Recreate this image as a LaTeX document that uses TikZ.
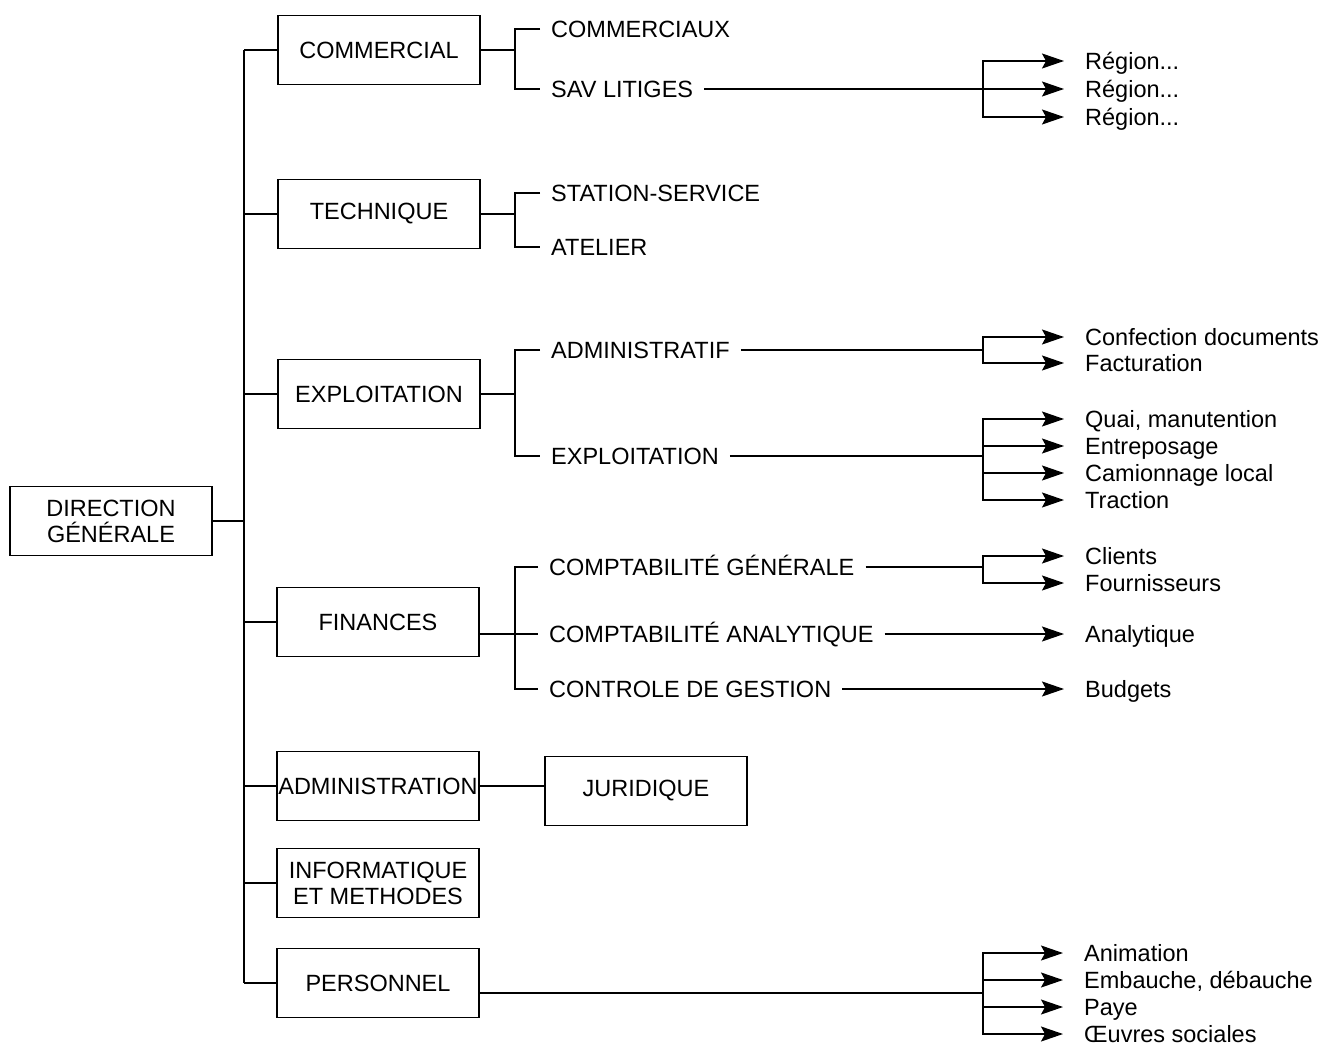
\documentclass[tikz,border=0pt]{standalone}
\usepackage{fontspec}
\setmainfont{Liberation Sans}
\usetikzlibrary{positioning,arrows.meta}

\begin{document}
\begin{tikzpicture}[x=1pt,y=-1pt,>={Stealth[length=22pt,width=15pt,inset=4pt]},
    every node/.style={font=\fontsize{23.5}{26}\selectfont},
    unit/.style={draw,line width=1.8pt,align=center,inner sep=0pt,
                 minimum width=202pt,minimum height=69pt},
    sub/.style={anchor=west,inner xsep=11pt,inner ysep=0pt,text height=16.8pt,text depth=0pt},
    task/.style={anchor=west,inner xsep=21pt,inner ysep=0pt,text height=16.8pt,text depth=0pt},
    link/.style={line width=1.6pt}]
  \useasboundingbox (0,0) rectangle (1335,1049);
  \node[unit] (dg) at (111,521) {DIRECTION\\GÉNÉRALE};
  \node[unit] (commercial) at (379,50) {COMMERCIAL};
  \node[unit] (technique) at (379,214) {TECHNIQUE};
  \node[unit] (exploitation) at (379,394) {EXPLOITATION};
  \node[unit] (finances) at (378,622) {FINANCES};
  \node[unit] (administration) at (378,786) {ADMINISTRATION};
  \node[unit] (informatique) at (378,883) {INFORMATIQUE\\ET METHODES};
  \node[unit] (personnel) at (378,983) {PERSONNEL};
  \node[unit] (juridique) at (646,791) {JURIDIQUE};

  \node[sub] (commerciaux) at (540,29) {COMMERCIAUX};
  \node[sub] (sav) at (540,89) {SAV LITIGES};
  \node[sub] (station) at (540,193) {STATION-SERVICE};
  \node[sub] (atelier) at (540,247) {ATELIER};
  \node[sub] (administratif) at (540,350) {ADMINISTRATIF};
  \node[sub] (exploit) at (540,456) {EXPLOITATION};
  \node[sub] (comptagen) at (538,567) {COMPTABILITÉ GÉNÉRALE};
  \node[sub] (comptaana) at (538,634) {COMPTABILITÉ ANALYTIQUE};
  \node[sub] (controle) at (538,689) {CONTROLE DE GESTION};

  \node[task] (region1) at (1064,61) {Région...};
  \node[task] (region2) at (1064,89) {Région...};
  \node[task] (region3) at (1064,117) {Région...};
  \node[task] (confection) at (1064,337) {Confection documents};
  \node[task] (facturation) at (1064,363) {Facturation};
  \node[task] (quai) at (1064,419) {Quai, manutention};
  \node[task] (entreposage) at (1064,446) {Entreposage};
  \node[task] (camionnage) at (1064,473) {Camionnage local};
  \node[task] (traction) at (1064,500) {Traction};
  \node[task] (clients) at (1064,556) {Clients};
  \node[task] (fournisseurs) at (1064,583) {Fournisseurs};
  \node[task] (analytique) at (1064,634) {Analytique};
  \node[task] (budgets) at (1064,689) {Budgets};
  \node[task] (animation) at (1063,953) {Animation};
  \node[task] (embauche) at (1063,980) {Embauche, débauche};
  \node[task] (paye) at (1063,1007) {Paye};
  \node[task] (oeuvres) at (1063,1034) {Œuvres sociales};

  \coordinate (spine) at (244,0);
  \coordinate (fork) at (515,0);
  \coordinate (fan) at (983,0);
  \coordinate (pfan) at (983,993);

  \draw[link] (dg.east) -- (dg.east -| spine);
  \draw[link] (commercial.west -| spine) -- (personnel.west -| spine);
  \foreach \u in {commercial,technique,exploitation,finances,administration,informatique,personnel}
    \draw[link] (\u.west -| spine) -- (\u.west);
  \draw[link] (administration.east) -- (administration.east -| juridique.west);

  \draw[link] (commercial.east) -- (commercial.east -| fork);
  \draw[link] (commerciaux.west) -| (sav.west -| fork) -- (sav.west);
  \draw[link] (technique.east) -- (technique.east -| fork);
  \draw[link] (station.west) -| (atelier.west -| fork) -- (atelier.west);
  \draw[link] (exploitation.east) -- (exploitation.east -| fork);
  \draw[link] (administratif.west) -| (exploit.west -| fork) -- (exploit.west);
  \draw[link] (comptagen.west) -| (controle.west -| fork) -- (controle.west);
  \draw[link] (comptaana.west -| finances.east) -- (comptaana.west);

  \draw[link,->] (sav.east) -- (region2.west);
  \foreach \t in {region1,region3}
    \draw[link,->] (sav.east -| fan) |- (\t.west);
  \draw[link] (administratif.east) -- (administratif.east -| fan);
  \foreach \t in {confection,facturation}
    \draw[link,->] (administratif.east -| fan) |- (\t.west);
  \draw[link] (exploit.east) -- (exploit.east -| fan);
  \foreach \t in {quai,entreposage,camionnage,traction}
    \draw[link,->] (exploit.east -| fan) |- (\t.west);
  \draw[link] (comptagen.east) -- (comptagen.east -| fan);
  \foreach \t in {clients,fournisseurs}
    \draw[link,->] (comptagen.east -| fan) |- (\t.west);
  \draw[link,->] (comptaana.east) -- (analytique.west);
  \draw[link,->] (controle.east) -- (budgets.west);
  \draw[link] (pfan -| personnel.east) -- (pfan);
  \foreach \t in {animation,embauche,paye,oeuvres}
    \draw[link,->] (pfan) |- (\t.west);
\end{tikzpicture}
\end{document}
